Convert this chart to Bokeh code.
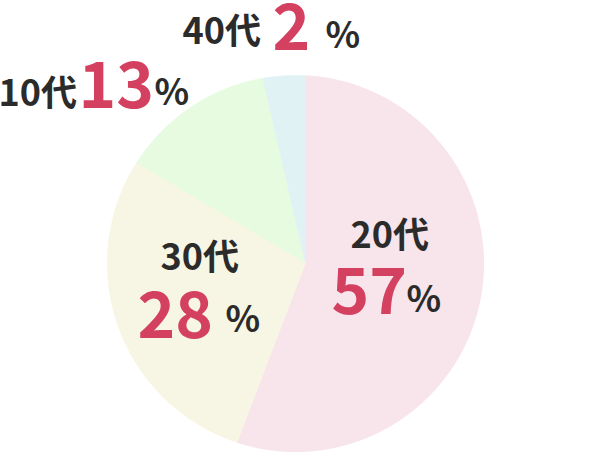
import numpy as np
from bokeh.plotting import figure
from bokeh.models import Range1d, ColumnDataSource
from bokeh.core.properties import value
from bokeh.embed import file_html
from bokeh.resources import INLINE

# ---- data ----
ages = ["20代", "30代", "10代", "40代"]
pct_labels = [57, 28, 13, 2]           # printed percentages
shares = [55.8, 27.7, 12.9, 3.6]       # slice sizes as drawn (percent)
colors = ["#f8e4eb", "#f7f6e4", "#e7fbe1", "#e1f2f5"]

# ---- layout (screen px) ----
W, H = 594, 452
VX, VY = 305.0, 262.0      # slice apex
CX, CY = 295.0, 263.0      # circle centre
R = 188.0

p = figure(width=W, height=H, output_backend="svg", toolbar_location=None,
           x_range=Range1d(0, W), y_range=Range1d(H, 0),
           min_border=0, outline_line_color=None, background_fill_color="white")
p.axis.visible = False
p.xgrid.visible = False
p.ygrid.visible = False


def ray_hit(theta):
    dx, dy = np.sin(theta), -np.cos(theta)
    fx, fy = VX - CX, VY - CY
    b = dx * fx + dy * fy
    c = fx * fx + fy * fy - R * R
    t = -b + np.sqrt(b * b - c)
    return VX + t * dx, VY + t * dy


def circ_angle(x, y):
    return np.arctan2(x - CX, -(y - CY))


xs_all, ys_all = [], []
cum = np.concatenate([[0], np.cumsum(shares)]) / np.sum(shares) * 2 * np.pi
for i in range(len(shares)):
    a0, a1 = cum[i], cum[i + 1]
    p0 = ray_hit(a0)
    p1 = ray_hit(a1)
    c0 = circ_angle(*p0)
    c1 = circ_angle(*p1)
    while c1 <= c0:
        c1 += 2 * np.pi
    ts = np.linspace(c0, c1, 200)
    xs = [VX] + list(CX + R * np.sin(ts)) + [VX]
    ys = [VY] + list(CY - R * np.cos(ts)) + [VY]
    xs_all.append(xs)
    ys_all.append(ys)

p.patches(xs=xs_all, ys=ys_all, fill_color=colors, line_color=colors, line_width=1)

FONT = value("Noto Sans CJK JP")
DARK = "#2b2b2b"
RED = "#d4405f"

name_xy = [(350, 231), (160, 253), (-2, 89), (182, 27)]
num_xy = [(331, 290), (137, 314), (78, 84), (272, 26)]
pct_xy = [(406, 295), (225, 315), (154, 88), (325, 31)]

src_name = ColumnDataSource(dict(x=[a for a, b in name_xy], y=[b for a, b in name_xy], t=ages))
src_num = ColumnDataSource(dict(x=[a for a, b in num_xy], y=[b for a, b in num_xy],
                                t=[str(v) for v in pct_labels]))
src_pct = ColumnDataSource(dict(x=[a for a, b in pct_xy], y=[b for a, b in pct_xy],
                                t=["%"] * len(pct_labels)))

p.text(x="x", y="y", text="t", source=src_name, text_font=FONT, text_font_style="bold",
       text_font_size="36px", text_color=DARK, text_align="left", text_baseline="alphabetic")
p.text(x="x", y="y", text="t", source=src_num, text_font=FONT, text_font_style="bold",
       text_font_size="64px", text_color=RED, text_align="left", text_baseline="alphabetic")
p.text(x="x", y="y", text="t", source=src_pct, text_font=FONT, text_font_style="bold",
       text_font_size="36px", text_color=DARK, text_align="left", text_baseline="alphabetic")

open("out.html", "w").write(file_html(p, INLINE))
